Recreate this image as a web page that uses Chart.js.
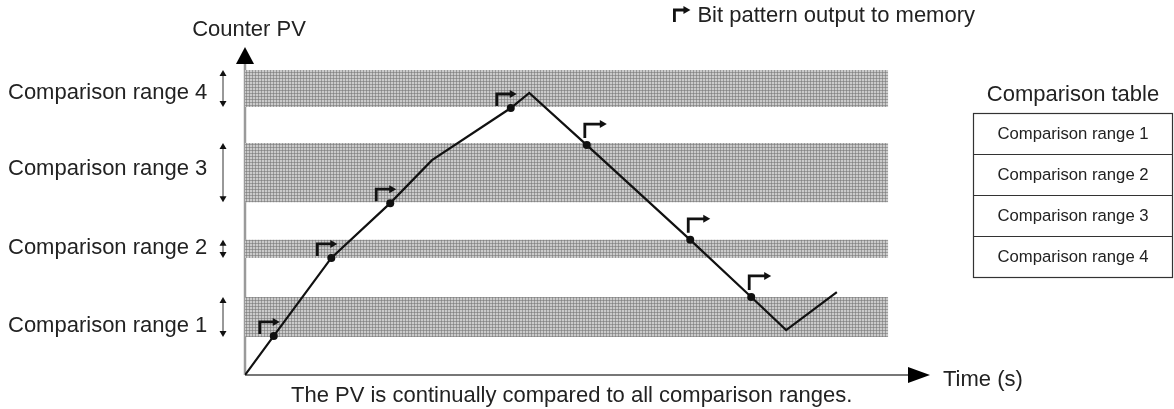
<!DOCTYPE html>
<html>
<head>
<meta charset="utf-8">
<script src="https://cdn.jsdelivr.net/npm/chart.js@4.4.1/dist/chart.umd.min.js"></script>
<style>
  body { margin: 0; background: #fff; }
  #wrap { width: 1174px; height: 409px; }
</style>
</head>
<body>
<div id="wrap"><canvas id="myChart" width="1174" height="409"></canvas></div>
<script>
// comparison ranges (Counter PV units, 0..100 up the axis)
const rangeNames = ['Comparison range 1', 'Comparison range 2', 'Comparison range 3', 'Comparison range 4'];
const rangeLow = [11.6, 35.7, 52.7, 81.7];
const rangeHigh = [23.8, 41.2, 70.7, 93.0];
const labelPV = [15.2, 39.0, 63.1, 86.3];
const bandEnd = 93.9;

// counter PV over time (time units 0..100 along the axis)
const timeVals = [0, 4.2, 12.6, 21.2, 27.3, 38.8, 41.5, 49.9, 65.0, 73.9, 79.0, 86.4];
const pvVals = [0, 11.9, 35.7, 52.4, 65.5, 81.4, 86.0, 70.1, 41.2, 23.8, 13.7, 25.3];
// where the bit pattern gets written out (1 = rising, -1 = falling)
const outputAt = [0, 1, 1, 1, 0, 1, 0, -1, -1, -1, 0, 0];

const FONT = '"Liberation Sans", Arial, sans-serif';

// halftone screen for the bands
function dots() {
  const c = document.createElement('canvas');
  c.width = 3; c.height = 3;
  const g = c.getContext('2d');
  g.fillStyle = '#cbcbcb';
  g.fillRect(0, 0, 3, 3);
  g.fillStyle = '#9b9b9b';
  g.fillRect(0, 0, 3, 1);
  g.fillRect(0, 0, 1, 3);
  g.fillStyle = '#858585';
  g.fillRect(0, 0, 1, 1);
  return g.createPattern(c, 'repeat');
}
const pattern = dots();

const pvPoints = timeVals.map((t, i) => ({ x: t, y: pvVals[i] }));

let datasets = [{
  label: 'PV',
  data: pvPoints,
  showLine: true,
  borderColor: '#111',
  borderWidth: 2.2,
  pointRadius: ctx => outputAt[ctx.dataIndex] ? 4 : 0,
  pointBackgroundColor: '#111',
  pointBorderWidth: 0,
  fill: false,
  order: 0
}];
rangeNames.forEach((name, i) => {
  datasets.push({
    label: name,
    data: [{ x: 0, y: rangeHigh[i] }, { x: bandEnd, y: rangeHigh[i] }],
    showLine: true, borderWidth: 0, pointRadius: 0,
    backgroundColor: pattern,
    fill: '+1',
    order: 1
  });
  datasets.push({
    label: name + ' low',
    data: [{ x: 0, y: rangeLow[i] }, { x: bandEnd, y: rangeLow[i] }],
    showLine: true, borderWidth: 0, pointRadius: 0,
    fill: false,
    order: 1
  });
});

function tri(g, pts) {
  g.beginPath();
  g.moveTo(pts[0], pts[1]);
  g.lineTo(pts[2], pts[3]);
  g.lineTo(pts[4], pts[5]);
  g.closePath();
  g.fill();
}

function bitMark(g, vx, yBot, yTop, xEnd) {
  g.strokeStyle = '#111';
  g.fillStyle = '#111';
  g.lineWidth = 2.8;
  g.beginPath();
  g.moveTo(vx, yBot);
  g.lineTo(vx, yTop);
  g.lineTo(xEnd - 5, yTop);
  g.stroke();
  tri(g, [xEnd + 1, yTop, xEnd - 6, yTop - 4, xEnd - 6, yTop + 4]);
}

const axesPlugin = {
  id: 'axesPlugin',
  beforeDatasetsDraw(chart) {
    const g = chart.ctx;
    const x = chart.scales.x, y = chart.scales.y;
    const x0 = x.getPixelForValue(0), y0 = y.getPixelForValue(0);
    const yTop = y.getPixelForValue(100), xEnd = x.getPixelForValue(100);
    g.save();
    // vertical axis
    g.strokeStyle = '#9a9a9a';
    g.lineWidth = 2.5;
    g.beginPath();
    g.moveTo(x0, y0);
    g.lineTo(x0, yTop + 14);
    g.stroke();
    g.fillStyle = '#000';
    tri(g, [x0, yTop, x0 - 9, yTop + 17, x0 + 9, yTop + 17]);
    // horizontal axis
    g.strokeStyle = '#777';
    g.lineWidth = 2;
    g.beginPath();
    g.moveTo(x0, y0);
    g.lineTo(xEnd - 20, y0);
    g.stroke();
    tri(g, [xEnd, y0, xEnd - 22, y0 - 8, xEnd - 22, y0 + 8]);
    g.restore();
  },
  afterDraw(chart) {
    const g = chart.ctx;
    const x = chart.scales.x, y = chart.scales.y;
    const x0 = x.getPixelForValue(0), y0 = y.getPixelForValue(0);
    const yTop = y.getPixelForValue(100), xEnd = x.getPixelForValue(100);
    g.save();

    // bit pattern output markers
    timeVals.forEach((t, i) => {
      if (!outputAt[i]) return;
      const px = x.getPixelForValue(t), py = y.getPixelForValue(pvVals[i]);
      if (outputAt[i] > 0) bitMark(g, px - 14, py - 2, py - 14, px + 5);
      else bitMark(g, px - 2, py - 7, py - 21, px + 19);
    });

    // range labels with double arrows
    g.font = '22px ' + FONT;
    g.textBaseline = 'middle';
    g.textAlign = 'left';
    rangeNames.forEach((name, i) => {
      const yh = y.getPixelForValue(rangeHigh[i]), yl = y.getPixelForValue(rangeLow[i]);
      g.fillStyle = '#222';
      g.fillText(name, 8, y.getPixelForValue(labelPV[i]) + 1);
      const ax = 223;
      g.strokeStyle = '#333';
      g.lineWidth = 1;
      g.beginPath();
      g.moveTo(ax, yh + 3);
      g.lineTo(ax, yl - 3);
      g.stroke();
      g.fillStyle = '#111';
      tri(g, [ax, yh, ax - 3.5, yh + 6, ax + 3.5, yh + 6]);
      tri(g, [ax, yl, ax - 3.5, yl - 6, ax + 3.5, yl - 6]);
    });

    // axis titles and caption
    g.fillStyle = '#222';
    g.textAlign = 'center';
    g.fillText('Counter PV', x0 + 4, yTop - 17);
    g.textAlign = 'left';
    g.fillText('Time (s)', xEnd + 13, y0 + 5);
    g.fillText('The PV is continually compared to all comparison ranges.', x0 + 46, y0 + 21);

    // legend
    g.textAlign = 'right';
    g.fillText('Bit pattern output to memory', 975, 16);
    const lw = g.measureText('Bit pattern output to memory').width;
    bitMark(g, 975 - lw - 23, 22, 10, 975 - lw - 8);

    // comparison table
    const tl = 973, tr = 1173, tt = 113, rowH = 41;
    g.fillStyle = '#222';
    g.textAlign = 'center';
    g.fillText('Comparison table', (tl + tr) / 2, 95);
    g.strokeStyle = '#333';
    g.lineWidth = 1.2;
    g.strokeRect(tl + 0.5, tt + 0.5, tr - tl - 1, rowH * rangeNames.length);
    g.font = '16.7px ' + FONT;
    rangeNames.forEach((name, i) => {
      if (i > 0) {
        g.beginPath();
        g.moveTo(tl, tt + 0.5 + rowH * i);
        g.lineTo(tr, tt + 0.5 + rowH * i);
        g.stroke();
      }
      g.fillStyle = '#222';
      g.fillText(name, (tl + tr) / 2, tt + rowH * i + rowH / 2 + 1);
    });
    g.restore();
  }
};

const ctx = document.getElementById('myChart').getContext('2d');
const myChart = new Chart(ctx, {
  type: 'scatter',
  data: { datasets: datasets },
  options: {
    responsive: false,
    animation: false,
    layout: { padding: { left: 245, right: 244, top: 47, bottom: 34 } },
    scales: {
      x: { type: 'linear', min: 0, max: 100, display: false },
      y: { type: 'linear', min: 0, max: 100, display: false }
    },
    plugins: {
      legend: { display: false },
      tooltip: { enabled: false }
    }
  },
  plugins: [axesPlugin]
});
</script>
</body>
</html>
